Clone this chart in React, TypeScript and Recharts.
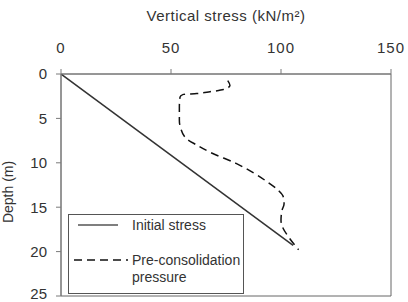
import React from "react";
import { LineChart, Line, XAxis, YAxis, Legend, ReferenceArea, Label } from "recharts";

const stressTicks = [0, 50, 100, 150];
const depthTicks = [0, 5, 10, 15, 20, 25];

// initial vertical stress, straight line from the surface
const initialStress = [0, 105.5];
const initialDepth = [0, 19.3];

// pre-consolidation pressure profile
const preconStress = [75.8, 76.8, 73.8, 67.7, 61.7, 55.6, 54.1, 53.8, 53.8, 54.4, 57.1, 61.7, 67.7, 79.8, 93.5, 98.8, 101, 101.4, 100.3, 100, 101, 103.3, 108];
const preconDepth = [0.75, 1.3, 1.75, 2.0, 2.2, 2.3, 2.6, 3.7, 5.2, 6.1, 7.3, 8.0, 8.8, 10.1, 12.1, 13.1, 13.8, 14.6, 15.5, 16.5, 17.4, 18.3, 19.8];

const font = "'Liberation Sans', Arial, sans-serif";
const textColor = "#333";
const axisColor = "#7a7a7a";

const LegendBox = () => (
  <svg width={176} height={80} style={{ display: "block", fontFamily: font }}>
    <rect x={0.5} y={0.5} width={175} height={79} fill="#fff" stroke="#555" />
    <line x1={10} y1={11} x2={50} y2={11} stroke="#555" strokeWidth={1.5} />
    <text x={64} y={16} fontSize={14} fill={textColor}>Initial stress</text>
    <line x1={6} y1={46} x2={60} y2={46} stroke="#111" strokeWidth={1.5} strokeDasharray="8 5" />
    <text x={64} y={51} fontSize={14} fill={textColor}>Pre-consolidation</text>
    <text x={64} y={68} fontSize={14} fill={textColor}>pressure</text>
  </svg>
);

const App = () => {
  const initialData = initialDepth.map((d, i) => ({ depth: d, stress: initialStress[i] }));
  const preconData = preconDepth.map((d, i) => ({ depth: d, stress: preconStress[i] }));

  return (
    <div style={{ position: "absolute", left: 0, top: 0, fontFamily: font }}>
      <LineChart width={408} height={302} layout="vertical" margin={{ top: 44, right: 17, bottom: 6, left: 0 }}>
        <XAxis
          type="number"
          orientation="top"
          domain={[0, 150]}
          ticks={stressTicks}
          height={30}
          stroke={axisColor}
          tickSize={5}
          tickMargin={16}
          tick={{ fontSize: 15, fill: textColor, letterSpacing: 1 }}
          allowDataOverflow
        >
          <Label value="Vertical stress (kN/m²)" position="top" offset={23} style={{ fontSize: 15, fill: textColor, letterSpacing: 0.5 }} />
        </XAxis>
        <YAxis
          type="number"
          dataKey="depth"
          domain={[0, 25]}
          ticks={depthTicks}
          width={61}
          stroke={axisColor}
          tickSize={5}
          tickMargin={9}
          tick={{ fontSize: 15, fill: textColor }}
          allowDataOverflow
        >
          <Label
            content={() => (
              <text transform="translate(13,192) rotate(-90)" textAnchor="middle" fontSize={14} fill={textColor}>
                Depth (m)
              </text>
            )}
          />
        </YAxis>
        <ReferenceArea x1={0} x2={150} y1={0} y2={25} fill="none" stroke="#666" strokeWidth={1} />
        <Line data={initialData} dataKey="stress" type="linear" stroke="#333" strokeWidth={1.5} dot={false} isAnimationActive={false} />
        <Line data={preconData} dataKey="stress" type="monotone" stroke="#111" strokeWidth={1.5} strokeDasharray="8 5" dot={false} isAnimationActive={false} />
        <Legend
          layout="vertical"
          align="center"
          verticalAlign="middle"
          content={() => <LegendBox />}
          wrapperStyle={{ position: "absolute", left: 68, top: 214, width: 176, height: 80 }}
        />
      </LineChart>
    </div>
  );
};

export default App;
